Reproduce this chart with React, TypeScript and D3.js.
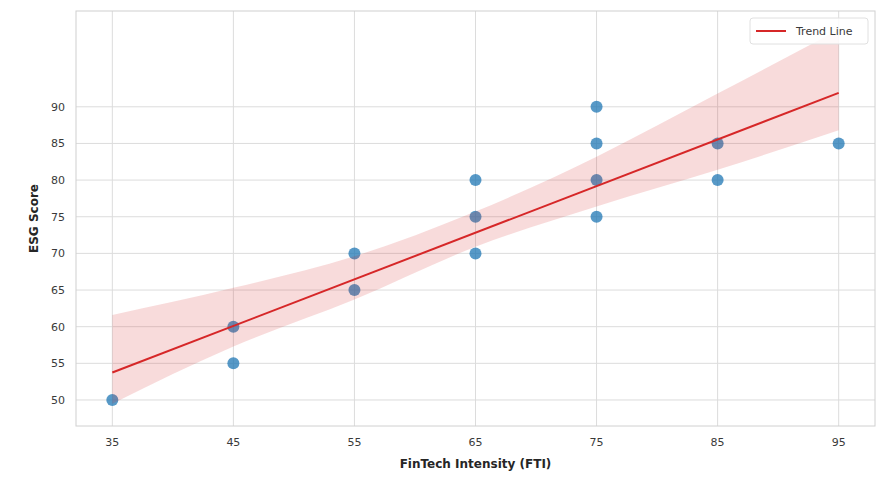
import React from "react";
import * as d3 from "d3";

// FinTech intensity vs ESG score observations
const ftiValues = [35, 45, 45, 55, 55, 65, 65, 65, 75, 75, 75, 75, 85, 85, 95];
const esgValues = [50, 60, 55, 70, 65, 80, 75, 70, 90, 85, 80, 75, 85, 80, 85];

// Confidence band around the fitted line (lower / upper bounds)
const bandX = [35, 45, 55, 65, 75, 85, 95];
const bandLow = [49.5, 57.3, 63.7, 70.9, 76.4, 81.4, 86.8];
const bandHigh = [61.6, 65.3, 69.6, 75.7, 83.2, 91.8, 100.5];

const xTicks = [35, 45, 55, 65, 75, 85, 95];
const yTicks = [50, 55, 60, 65, 70, 75, 80, 85, 90];

const W = 876;
const H = 484;
const M = { left: 76, right: 1, top: 11, bottom: 58 };

export default function App() {
  const x = d3.scaleLinear().domain([32, 98]).range([M.left, W - M.right]);
  const y = d3.scaleLinear().domain([46.45, 103.07]).range([H - M.bottom, M.top]);

  // least-squares fit
  const mx = d3.mean(ftiValues)!;
  const my = d3.mean(esgValues)!;
  let sxy = 0;
  let sxx = 0;
  ftiValues.forEach((v, i) => {
    sxy += (v - mx) * (esgValues[i] - my);
    sxx += (v - mx) * (v - mx);
  });
  const slope = sxy / sxx;
  const intercept = my - slope * mx;
  const xMin = d3.min(ftiValues)!;
  const xMax = d3.max(ftiValues)!;
  const fit = [xMin, xMax].map((v) => [v, intercept + slope * v] as [number, number]);

  const lineGen = d3
    .line<[number, number]>()
    .x((d) => x(d[0]))
    .y((d) => y(d[1]));

  const areaGen = d3
    .area<number>()
    .x((_, i) => x(bandX[i]))
    .y0((_, i) => y(bandLow[i]))
    .y1((_, i) => y(bandHigh[i]))
    .curve(d3.curveMonotoneX);

  const font = "DejaVu Sans, sans-serif";
  const plotW = W - M.left - M.right;
  const plotH = H - M.top - M.bottom;

  return (
    <svg
      width={W}
      height={H}
      style={{ position: "absolute", left: 0, top: 0, background: "#fff" }}
      fontFamily={font}
    >
      <defs>
        <clipPath id="plot-clip">
          <rect x={M.left} y={M.top} width={plotW} height={plotH} />
        </clipPath>
      </defs>

      {/* grid */}
      {xTicks.map((t) => (
        <line key={"gx" + t} x1={x(t)} x2={x(t)} y1={M.top} y2={H - M.bottom} stroke="#dcdcdc" strokeWidth={1} />
      ))}
      {yTicks.map((t) => (
        <line key={"gy" + t} x1={M.left} x2={W - M.right} y1={y(t)} y2={y(t)} stroke="#dcdcdc" strokeWidth={1} />
      ))}

      <g clipPath="url(#plot-clip)">
        {/* observations */}
        {ftiValues.map((v, i) => (
          <circle key={"p" + i} cx={x(v)} cy={y(esgValues[i])} r={6} fill="#1f77b4" fillOpacity={0.75} />
        ))}
        {/* confidence band */}
        <path d={areaGen(bandX) || ""} fill="#d62728" fillOpacity={0.17} stroke="none" />
        {/* regression line */}
        <path d={lineGen(fit) || ""} fill="none" stroke="#d62728" strokeWidth={2} />
      </g>

      {/* frame */}
      <rect x={M.left} y={M.top} width={plotW} height={plotH} fill="none" stroke="#d0d0d0" strokeWidth={1} />

      {/* tick labels */}
      {xTicks.map((t) => (
        <text key={"tx" + t} x={x(t)} y={H - M.bottom + 20} textAnchor="middle" fontSize={11} fill="#3a3a3a">
          {t}
        </text>
      ))}
      {yTicks.map((t) => (
        <text key={"ty" + t} x={M.left - 11} y={y(t)} dy="0.35em" textAnchor="end" fontSize={11} fill="#3a3a3a">
          {t}
        </text>
      ))}

      {/* axis titles */}
      <text
        x={M.left + plotW / 2}
        y={H - 16}
        textAnchor="middle"
        fontSize={12}
        fontWeight="bold"
        fill="#262626"
      >
        FinTech Intensity (FTI)
      </text>
      <text
        transform={`translate(38, ${M.top + plotH / 2}) rotate(-90)`}
        textAnchor="middle"
        fontSize={12}
        fontWeight="bold"
        fill="#262626"
      >
        ESG Score
      </text>

      {/* legend */}
      <g>
        <rect x={750} y={18} width={118} height={26} rx={3} fill="#fff" fillOpacity={0.85} stroke="#e0e0e0" />
        <line x1={756} x2={786} y1={31} y2={31} stroke="#d62728" strokeWidth={2} />
        <text x={796} y={31} dy="0.35em" fontSize={11} fill="#3a3a3a">
          Trend Line
        </text>
      </g>
    </svg>
  );
}
